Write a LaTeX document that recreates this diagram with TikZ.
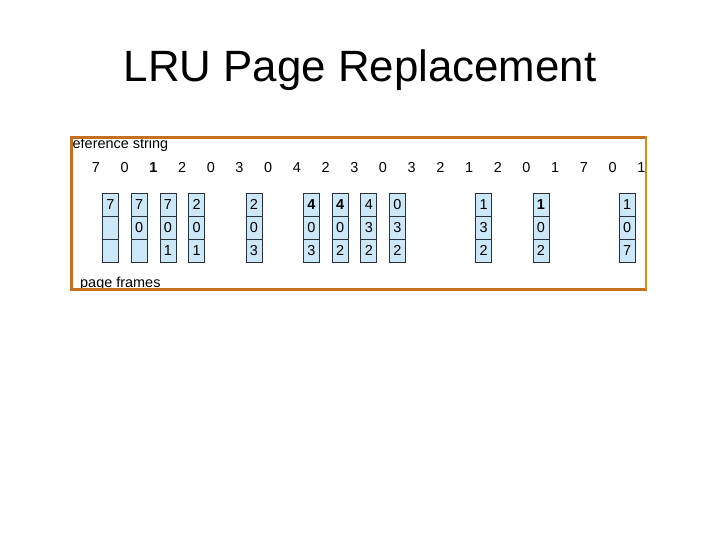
\documentclass[tikz,border=0pt]{standalone}
\usepackage{fontspec}
\setmainfont{Liberation Sans}
\definecolor{frameorange}{RGB}{196,112,30}
\definecolor{cellblue}{RGB}{204,232,248}
\definecolor{celledge}{RGB}{40,50,60}
\begin{document}
\begin{tikzpicture}[x=1bp,y=-1bp,
  refnum/.style={font=\fontsize{14.5}{16}\selectfont, inner sep=0pt, anchor=base},
  cell/.style={draw=celledge, line width=0.7bp, fill=cellblue, minimum width=16bp, minimum height=23bp, inner sep=0pt, text height=10.4bp, text depth=0bp, font=\fontsize{14.5}{16}\selectfont},
  small/.style={font=\fontsize{14.5}{16}\selectfont, inner sep=0pt}]
\useasboundingbox (0,0) rectangle (720,540);
\node[font=\fontsize{44}{50}\selectfont, inner sep=0pt] (title) at (360,70) {LRU Page Replacement};
% reference string
\foreach \v [count=\i from 0] in {7,0,{\textbf{1}},2,0,3,0,4,2,3,0,3,2,1,2,0,1,7,0,1}{
  \node[refnum] (r\i) at ({96+28.7*\i},173) {\v};
}
% frames
\newcommand{\framecol}[4]{%
  \node[cell] (f#1a) at ({110.5+28.7*#1},204.5) {#2};
  \node[cell] (f#1b) at ({110.5+28.7*#1},227.5) {#3};
  \node[cell] (f#1c) at ({110.5+28.7*#1},250.5) {#4};
}
\framecol{0}{7}{}{}
\framecol{1}{7}{0}{}
\framecol{2}{7}{0}{1}
\framecol{3}{2}{0}{1}
\framecol{5}{2}{0}{3}
\framecol{7}{\textbf{4}}{0}{3}
\framecol{8}{\textbf{4}}{0}{2}
\framecol{9}{4}{3}{2}
\framecol{10}{0}{3}{2}
\framecol{13}{1}{3}{2}
\framecol{15}{\textbf{1}}{0}{2}
\framecol{18}{1}{0}{7}
\node[small, anchor=base west] (reflabel) at (72.5,148.5) {eference string};
\node[small, anchor=base west] (pflabel) at (80,287.5) {page frames};
\fill[white] (70,290) rectangle (650,300);
\fill[white] (647,130) rectangle (660,295);
\draw[frameorange, line width=3bp] (71,137.5) -- (645.5,137.5);
\draw[frameorange, line width=3bp] (71,136) -- (71,290.5);
\draw[frameorange, line width=3bp] (69.5,289) -- (647,289);
\draw[frameorange!80!yellow, line width=1.5bp] (646,136.5) -- (646,290);
\end{tikzpicture}
\end{document}
